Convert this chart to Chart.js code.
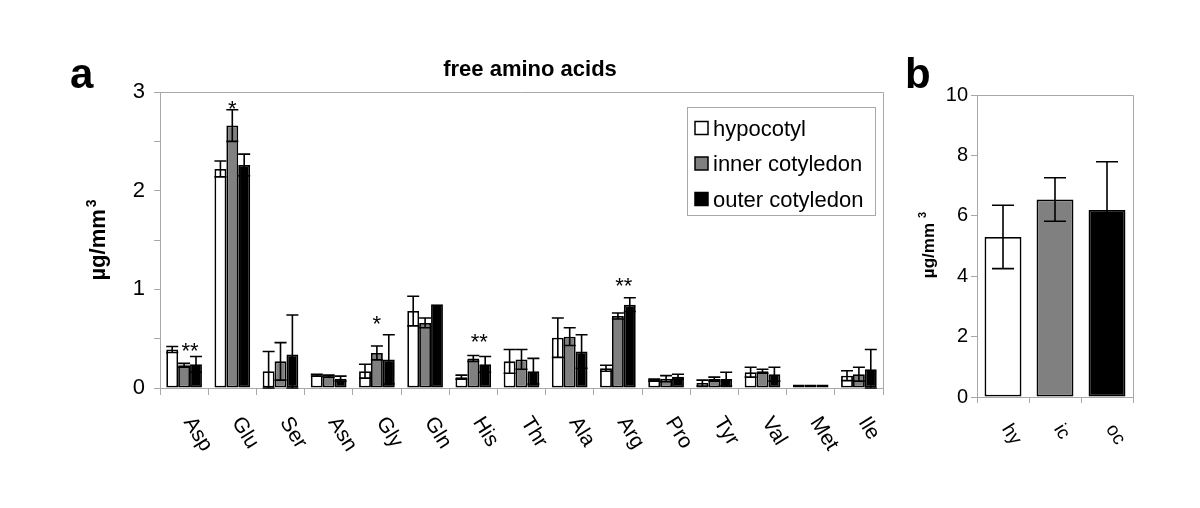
<!DOCTYPE html>
<html lang="en">
<head>
  <meta charset="UTF-8">
  <title>free amino acids</title>
  <script src="https://cdn.jsdelivr.net/npm/chart.js"></script>
  <style>
    body { margin: 0; background: #fff; }
    canvas { position: absolute; top: 0; }
  </style>
</head>
<body>
  <canvas id="aminoChart" width="900" height="508" style="left:0"></canvas>
  <canvas id="totalChart" width="300" height="508" style="left:900px"></canvas>
  <script>
    const FONT = 'Arial, "Liberation Sans", sans-serif';
    const AXIS_GREY = '#a8a8a8';

    // panel a: free amino acids (ug/mm3)
    const aminoAcids = ['Asp', 'Glu', 'Ser', 'Asn', 'Gly', 'Gln', 'His', 'Thr', 'Ala', 'Arg', 'Pro', 'Tyr', 'Val', 'Met', 'Ile'];
    const hypocotyl = [0.39, 2.22, 0.17, 0.13, 0.17, 0.78, 0.11, 0.27, 0.51, 0.20, 0.08, 0.05, 0.16, 0.035, 0.125];
    const hypocotylErr = [0.03, 0.08, 0.20, 0.01, 0.07, 0.15, 0.02, 0.12, 0.20, 0.03, 0.01, 0.03, 0.05, 0, 0.05];
    const innerCotyledon = [0.23, 2.66, 0.27, 0.12, 0.355, 0.66, 0.30, 0.29, 0.52, 0.73, 0.095, 0.09, 0.17, 0.035, 0.14];
    const innerCotyledonErr = [0.02, 0.16, 0.19, 0.01, 0.07, 0.05, 0.03, 0.10, 0.09, 0.03, 0.03, 0.02, 0.02, 0, 0.07];
    const outerCotyledon = [0.24, 2.26, 0.34, 0.095, 0.29, 0.85, 0.24, 0.17, 0.37, 0.845, 0.115, 0.09, 0.14, 0.035, 0.19];
    const outerCotyledonErr = [0.08, 0.11, 0.40, 0.025, 0.25, 0, 0.08, 0.13, 0.17, 0.07, 0.025, 0.07, 0.07, 0, 0.2];
    const yTicksA = [0, 1, 2, 3];

    // significance marks: category, text, height of the mark (data units), bars it sits over
    const starCategories = ['Asp', 'Glu', 'Gly', 'His', 'Arg'];
    const starTexts = ['**', '*', '*', '**', '**'];
    const starHeights = [0.43, 2.885, 0.70, 0.52, 1.085];
    const starBars = [[1, 2], [1], [1], [1, 2], [1, 2]];

    // panel b: total
    const tissues = ['hy', 'ic', 'oc'];
    const totals = [5.30, 6.54, 6.19];
    const totalsErr = [1.05, 0.72, 1.6];
    const yTicksB = [0, 2, 4, 6, 8, 10];

    const seriesColors = ['#ffffff', '#808080', '#000000'];

    const drawErrorBars = (chart, errs, capHalf) => {
      const { ctx, scales: { y } } = chart;
      ctx.save();
      ctx.strokeStyle = '#000';
      ctx.lineWidth = 1.6;
      chart.data.datasets.forEach((ds, i) => {
        chart.getDatasetMeta(i).data.forEach((bar, j) => {
          const e = errs[i][j];
          if (!e) return;
          const v = ds.data[j];
          const yt = y.getPixelForValue(v + e);
          const yb = y.getPixelForValue(Math.max(0, v - e));
          const x = bar.x;
          ctx.beginPath();
          ctx.moveTo(x, yt); ctx.lineTo(x, yb);
          ctx.moveTo(x - capHalf, yt); ctx.lineTo(x + capHalf, yt);
          ctx.moveTo(x - capHalf, yb); ctx.lineTo(x + capHalf, yb);
          ctx.stroke();
        });
      });
      ctx.restore();
    };

    const drawFrame = (chart) => {
      const { ctx, chartArea: { left, right, top, bottom } } = chart;
      ctx.save();
      ctx.strokeStyle = AXIS_GREY;
      ctx.lineWidth = 1;
      ctx.beginPath();
      ctx.moveTo(left, top + 0.5); ctx.lineTo(right + 0.5, top + 0.5); ctx.lineTo(right + 0.5, bottom);
      ctx.stroke();
      ctx.restore();
    };

    const drawRotatedLabels = (chart, labels, size, dx, dy) => {
      const { ctx, scales: { x }, chartArea } = chart;
      ctx.save();
      ctx.font = `${size}px ${FONT}`;
      ctx.fillStyle = '#000';
      ctx.textAlign = 'left';
      ctx.textBaseline = 'middle';
      labels.forEach((lab, i) => {
        ctx.save();
        ctx.translate(x.getPixelForValue(i) + dx, chartArea.bottom + dy);
        ctx.rotate(58 * Math.PI / 180);
        ctx.fillText(lab, 0, 0);
        ctx.restore();
      });
      ctx.restore();
    };

    const drawUnitTitle = (ctx, cx, cy, size, gap) => {
      ctx.save();
      ctx.translate(cx, cy);
      ctx.rotate(-Math.PI / 2);
      ctx.fillStyle = '#000';
      ctx.textBaseline = 'middle';
      ctx.textAlign = 'left';
      ctx.font = `bold ${size}px ${FONT}`;
      const wMain = ctx.measureText('µg/mm').width;
      const supSize = Math.round(size * 0.65);
      ctx.font = `bold ${supSize}px ${FONT}`;
      const wSup = ctx.measureText('3').width;
      const start = -(wMain + gap + wSup) / 2;
      ctx.font = `bold ${size}px ${FONT}`;
      ctx.fillText('µg/mm', start, 0);
      ctx.font = `bold ${supSize}px ${FONT}`;
      ctx.fillText('3', start + wMain + gap, -size * 0.33);
      ctx.restore();
    };

    const panelAExtras = {
      id: 'panelAExtras',
      afterDatasetsDraw(chart) {
        drawErrorBars(chart, [hypocotylErr, innerCotyledonErr, outerCotyledonErr], 6);
      },
      afterDraw(chart) {
        const { ctx, chartArea, scales: { y } } = chart;
        drawFrame(chart);

        // significance stars
        ctx.save();
        ctx.font = `22px ${FONT}`;
        ctx.fillStyle = '#000';
        ctx.textAlign = 'center';
        ctx.textBaseline = 'alphabetic';
        starCategories.forEach((cat, k) => {
          const idx = aminoAcids.indexOf(cat);
          const xs = starBars[k].map(b => chart.getDatasetMeta(b).data[idx].x);
          const xc = xs.reduce((a, b) => a + b, 0) / xs.length;
          ctx.fillText(starTexts[k], xc, y.getPixelForValue(starHeights[k]) + 22 * 0.57);
        });
        ctx.restore();

        drawRotatedLabels(chart, aminoAcids, 21, 4, 31);

        // legend
        const boxW = 188, boxH = 108;
        const bx = chartArea.right - 8 - boxW, by = chartArea.top + 15;
        ctx.save();
        ctx.strokeStyle = AXIS_GREY;
        ctx.lineWidth = 1;
        ctx.strokeRect(bx + 0.5, by + 0.5, boxW, boxH);
        ctx.font = `22px ${FONT}`;
        ctx.textAlign = 'left';
        ctx.textBaseline = 'alphabetic';
        chart.data.datasets.forEach((ds, i) => {
          const cy = by + 21 + i * 35.5;
          ctx.fillStyle = ds.backgroundColor;
          ctx.fillRect(bx + 8, cy - 6.5, 13, 13);
          ctx.strokeStyle = '#000';
          ctx.lineWidth = 1.5;
          ctx.strokeRect(bx + 8, cy - 6.5, 13, 13);
          ctx.fillStyle = '#000';
          ctx.fillText(ds.label, bx + 26, cy + 7.5);
        });
        ctx.restore();

        // titles
        ctx.save();
        ctx.fillStyle = '#000';
        ctx.textAlign = 'center';
        ctx.font = `bold 22px ${FONT}`;
        ctx.fillText('free amino acids', 530, 76);
        ctx.textAlign = 'left';
        ctx.font = `bold 42px ${FONT}`;
        ctx.fillText('a', 70, 88);
        ctx.restore();
        drawUnitTitle(ctx, 99, 240, 22, 2);
      },
    };

    const panelBExtras = {
      id: 'panelBExtras',
      afterDatasetsDraw(chart) {
        drawErrorBars(chart, [totalsErr], 11);
      },
      afterDraw(chart) {
        const { ctx } = chart;
        drawFrame(chart);
        drawRotatedLabels(chart, tissues, 19, 3, 29);
        ctx.save();
        ctx.fillStyle = '#000';
        ctx.font = `bold 42px ${FONT}`;
        ctx.fillText('b', 5, 88);
        ctx.restore();
        drawUnitTitle(ctx, 29, 245, 17, 5);
      },
    };

    const axisGrid = { drawOnChartArea: false, tickLength: 6, color: AXIS_GREY };
    const barStyle = { barPercentage: 1, borderColor: '#000', borderWidth: 1.8, borderSkipped: false };

    new Chart(document.getElementById('aminoChart'), {
      type: 'bar',
      data: {
        labels: aminoAcids,
        datasets: [
          { label: 'hypocotyl', data: hypocotyl, backgroundColor: seriesColors[0] },
          { label: 'inner cotyledon', data: innerCotyledon, backgroundColor: seriesColors[1] },
          { label: 'outer cotyledon', data: outerCotyledon, backgroundColor: seriesColors[2] },
        ],
      },
      options: {
        responsive: false,
        animation: false,
        layout: { padding: { left: 0, right: 17, top: 92, bottom: 0 } },
        datasets: { bar: { ...barStyle, categoryPercentage: 0.74 } },
        plugins: { legend: { display: false }, tooltip: { enabled: false } },
        scales: {
          x: {
            grid: { ...axisGrid, tickLength: 7 },
            border: { color: AXIS_GREY },
            ticks: { display: false },
            afterFit(s) { s.height = 120; },
          },
          y: {
            min: 0,
            max: 3,
            ticks: {
              stepSize: 0.5,
              callback: v => (yTicksA.includes(v) ? v : ''),
              font: { family: FONT, size: 22 },
              color: '#000',
              padding: 9,
            },
            grid: axisGrid,
            border: { color: AXIS_GREY },
            afterFit(s) { s.width = 160; },
          },
        },
      },
      plugins: [panelAExtras],
    });

    new Chart(document.getElementById('totalChart'), {
      type: 'bar',
      data: {
        labels: tissues,
        datasets: [{ label: 'total', data: totals, backgroundColor: seriesColors }],
      },
      options: {
        responsive: false,
        animation: false,
        layout: { padding: { left: 0, right: 67, top: 95, bottom: 0 } },
        datasets: { bar: { ...barStyle, categoryPercentage: 0.71 } },
        plugins: { legend: { display: false }, tooltip: { enabled: false } },
        scales: {
          x: {
            grid: axisGrid,
            border: { color: AXIS_GREY },
            ticks: { display: false },
            afterFit(s) { s.height = 111; },
          },
          y: {
            min: 0,
            max: 10,
            ticks: {
              stepSize: 2,
              callback: v => (yTicksB.includes(v) ? v : ''),
              font: { family: FONT, size: 20 },
              color: '#000',
              padding: 3,
            },
            grid: axisGrid,
            border: { color: AXIS_GREY },
            afterFit(s) { s.width = 77; },
          },
        },
      },
      plugins: [panelBExtras],
    });
  </script>
</body>
</html>
